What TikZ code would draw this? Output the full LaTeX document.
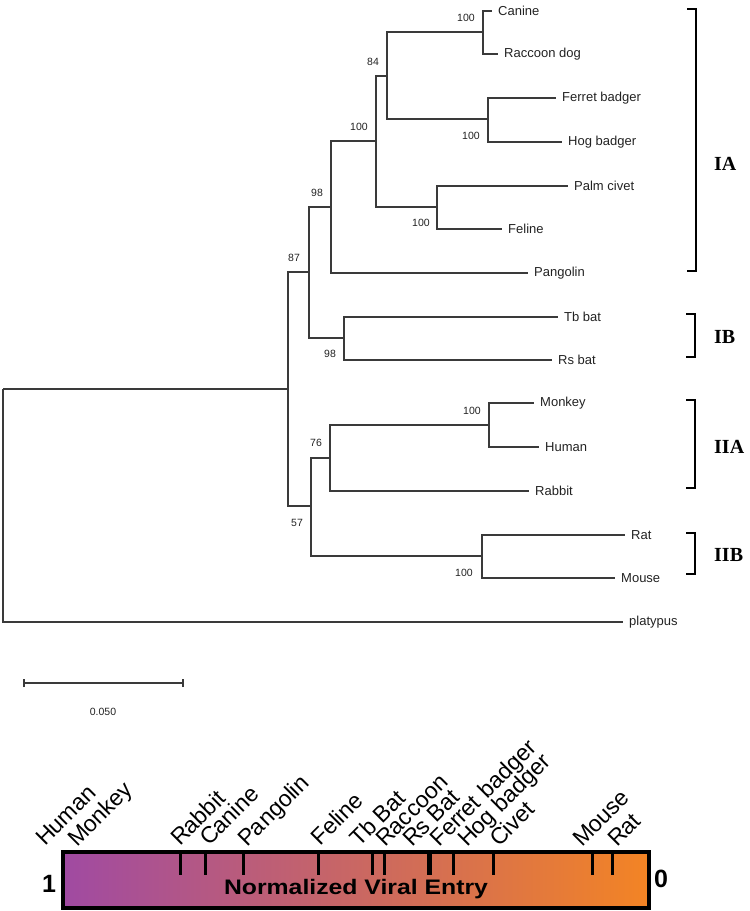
\documentclass[tikz,border=0pt]{standalone}
\usepackage{fontspec}
\setmainfont{Liberation Sans}
\newfontfamily\serifbold{Liberation Serif}
\definecolor{treecol}{HTML}{3A3A3A}
\definecolor{txtcol}{HTML}{222222}
\definecolor{barL}{RGB}{160,74,162}
\definecolor{barR}{RGB}{243,132,36}
\tikzset{
  branch/.style={draw=treecol, line width=1.2pt},
  leaf/.style={anchor=west, inner xsep=6pt, inner ysep=0pt, text=txtcol, font=\fontsize{13}{15}\selectfont},
  bs/.style={inner sep=0pt, text=txtcol, font=\fontsize{10.5}{12}\selectfont},
  clade/.style={anchor=west, inner sep=0pt, font=\serifbold\bfseries\fontsize{20}{22}\selectfont},
  bracket/.style={draw=black, line width=1.3pt},
  rotlab/.style={rotate=45, anchor=base west, inner sep=0pt, font=\fontsize{23}{25}\selectfont},
  tickmark/.style={draw=black, line width=3pt},
}
\begin{document}
\begin{tikzpicture}[x=1pt,y=-1pt]
\useasboundingbox (0,0) rectangle (750,911);
% internal nodes
\coordinate (root) at (3,389);
\coordinate (nA) at (288,389);
\coordinate (n87) at (309,272);
\coordinate (n98) at (331,207);
\coordinate (n100) at (376,141);
\coordinate (n84) at (387,76);
\coordinate (ncan) at (483,32);
\coordinate (nbad) at (488,119);
\coordinate (nciv) at (437,207);
\coordinate (nIB) at (344,338);
\coordinate (n57) at (311,506);
\coordinate (n76) at (330,458);
\coordinate (nmon) at (489,425);
\coordinate (nrat) at (482,556);
% leaves
\node[leaf] (canine) at (492,11) {Canine};
\node[leaf] (raccoon) at (498,54) {Raccoon dog};
\node[leaf] (ferret) at (556,98) {Ferret badger};
\node[leaf] (hog) at (562,142) {Hog badger};
\node[leaf] (palm) at (568,186) {Palm civet};
\node[leaf] (feline) at (502,229) {Feline};
\node[leaf] (pangolin) at (528,273) {Pangolin};
\node[leaf] (tb) at (558,317) {Tb bat};
\node[leaf] (rs) at (552,360) {Rs bat};
\node[leaf] (monkey) at (534,403) {Monkey};
\node[leaf] (human) at (539,447) {Human};
\node[leaf] (rabbit) at (529,491) {Rabbit};
\node[leaf] (rat) at (625,535) {Rat};
\node[leaf] (mouse) at (615,578) {Mouse};
\node[leaf] (platypus) at (623,622) {platypus};
% branches
\draw[branch] (root) -- (nA);
\draw[branch] (root) |- (platypus.west);
\draw[branch] (nA) |- (n87);
\draw[branch] (nA) |- (n57);
\draw[branch] (n87) |- (n98);
\draw[branch] (n87) |- (nIB);
\draw[branch] (n98) |- (n100);
\draw[branch] (n98) |- (pangolin.west);
\draw[branch] (n100) |- (n84);
\draw[branch] (n100) |- (nciv);
\draw[branch] (n84) |- (ncan);
\draw[branch] (n84) |- (nbad);
\draw[branch] (ncan) |- (canine.west);
\draw[branch] (ncan) |- (raccoon.west);
\draw[branch] (nbad) |- (ferret.west);
\draw[branch] (nbad) |- (hog.west);
\draw[branch] (nciv) |- (palm.west);
\draw[branch] (nciv) |- (feline.west);
\draw[branch] (nIB) |- (tb.west);
\draw[branch] (nIB) |- (rs.west);
\draw[branch] (n57) |- (n76);
\draw[branch] (n57) |- (nrat);
\draw[branch] (n76) |- (nmon);
\draw[branch] (n76) |- (rabbit.west);
\draw[branch] (nmon) |- (monkey.west);
\draw[branch] (nmon) |- (human.west);
\draw[branch] (nrat) |- (rat.west);
\draw[branch] (nrat) |- (mouse.west);
% bootstrap values
\node[bs] (b1) at (466,18) {100};
\node[bs] (b2) at (373,62) {84};
\node[bs] (b3) at (471,136) {100};
\node[bs] (b4) at (359,127) {100};
\node[bs] (b5) at (317,193) {98};
\node[bs] (b6) at (421,223) {100};
\node[bs] (b7) at (294,258) {87};
\node[bs] (b8) at (330,354) {98};
\node[bs] (b9) at (472,411) {100};
\node[bs] (b10) at (316,443) {76};
\node[bs] (b11) at (297,523) {57};
\node[bs] (b12) at (464,573) {100};
% clade brackets
\draw[bracket] (687,9) -- (696,9) -- (696,271) -- (687,271);
\draw[bracket] (686,314) -- (695,314) -- (695,357) -- (686,357);
\draw[bracket] (686,400) -- (695,400) -- (695,488) -- (686,488);
\draw[bracket] (686,533) -- (695,533) -- (695,574) -- (686,574);
\node[clade] (IA) at (714,164) {IA};
\node[clade] (IB) at (714,337) {IB};
\node[clade] (IIA) at (714,447) {IIA};
\node[clade] (IIB) at (714,555) {IIB};
% scale bar
\coordinate (sb1) at (24,683);
\coordinate (sb2) at (183,683);
\draw[branch, line width=1.1pt] (sb1) -- (sb2);
\draw[branch, line width=1.1pt] ([yshift=-4pt]sb1) -- ([yshift=4pt]sb1);
\draw[branch, line width=1.1pt] ([yshift=-4pt]sb2) -- ([yshift=4pt]sb2);
\node[bs] (sblab) at (103,712) {0.050};
% color bar
\shade[left color=barL, right color=barR] (63,852) rectangle (649,908);
\foreach \x in {180,205,243,318,372,384,453,493,592,612}
  \draw[tickmark] (\x,852) -- (\x,875);
\draw[tickmark, line width=5pt] (429,852) -- (429,875);
\draw[draw=black, line width=3.5pt] (63,852) rectangle (649,908);
\node[font=\bfseries\fontsize{21}{23}\selectfont, inner sep=0pt] (nve) at (356,889) {\scalebox{1.18}[1]{Normalized Viral Entry}};
\node[font=\bfseries\fontsize{25}{27}\selectfont, inner sep=0pt] (one) at (49,884) {1};
\node[font=\bfseries\fontsize{25}{27}\selectfont, inner sep=0pt] (zero) at (661,879) {0};
% rotated labels
\begin{scope}[xshift=7pt]
\node[rotlab] (lHuman) at (38,847) {Human};
\node[rotlab] (lMonkey) at (70,848) {Monkey};
\node[rotlab] (lRabbit) at (173,847) {Rabbit};
\node[rotlab] (lCanine) at (202,847) {Canine};
\node[rotlab] (lPangolin) at (240,848) {Pangolin};
\node[rotlab] (lFeline) at (313,847) {Feline};
\node[rotlab] (lTb) at (352,848) {Tb Bat};
\node[rotlab] (lRaccoon) at (378,848) {Raccoon};
\node[rotlab] (lRs) at (405,848) {Rs Bat};
\node[rotlab] (lFerret) at (432,848) {Ferret badger};
\node[rotlab] (lHog) at (460,848) {Hog badger};
\node[rotlab] (lCivet) at (492,848) {Civet};
\node[rotlab] (lMouse) at (575,848) {Mouse};
\node[rotlab] (lRat) at (610,848) {Rat};
\end{scope}
\end{tikzpicture}
\end{document}
